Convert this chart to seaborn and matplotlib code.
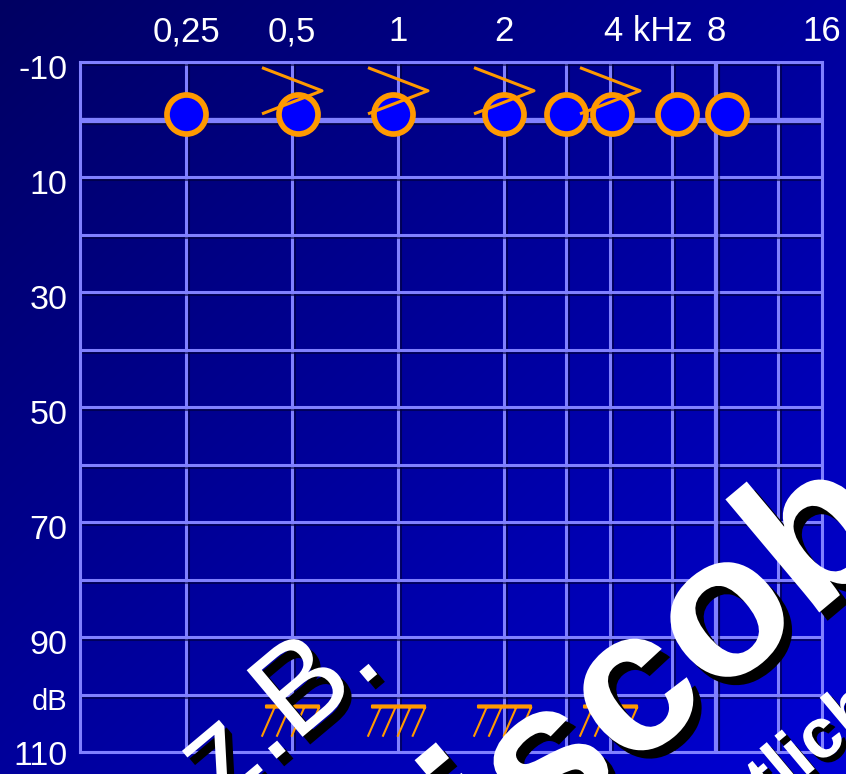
import numpy as np
import pandas as pd
import matplotlib
matplotlib.use("Agg")
import matplotlib.pyplot as plt
import matplotlib.patheffects as pe
from matplotlib.path import Path
from matplotlib.ticker import NullFormatter
from matplotlib.transforms import ScaledTranslation
import seaborn as sns

# ---------------- data ----------------
freq_ticks = [0.25, 0.5, 1, 2, 4, 8, 16]
freq_tick_labels = ["0,25", "0,5", "1", "2", "4 kHz", "8", "16"]
freq_grid_extra = [3, 6, 12]
db_ticks = [-10, 10, 30, 50, 70, 90, 100, 110]
db_tick_labels = ["-10", "10", "30", "50", "70", "90", "dB", "110"]
db_grid_extra = [0, 20, 40, 60, 80]

air_freq = [0.25, 0.52, 0.97, 2.0, 3.0, 4.05, 6.2, 8.6]
air_db = [-1, -1, -1, -1, -1, -1, -1, -1]
bone_freq = [0.5, 1, 2, 4]
bone_db = [-5, -5, -5, -5]
ucl_freq = [0.5, 1, 2, 4]
ucl_db = [102, 102, 102, 102]

caption_1 = "z.B."
caption_2 = "Discobesuch"
caption_3 = "deutlich"

# ---------------- style ----------------
sns.set_theme(style="white")
plt.rcParams['font.family'] = ['Liberation Sans', 'DejaVu Sans']

W, H = 846, 774
fig = plt.figure(figsize=(W / 100, H / 100), dpi=100)
fig.patch.set_facecolor('#000080')

# gradient background
bg = fig.add_axes([0, 0, 1, 1], zorder=-10)
yy, xx = np.mgrid[0:H, 0:W]
t = (xx / W + yy / H) / 2.0
c0 = np.array([0x00, 0x00, 0x62]) / 255.0
c1 = np.array([0x00, 0x00, 0xD6]) / 255.0
img = c0 + (c1 - c0) * t[..., None]
bg.imshow(img, aspect='auto', extent=[0, 1, 0, 1], origin='upper')
bg.axis('off')

ax = fig.add_axes([80 / W, (H - 752) / H, (822 - 80) / W, (752 - 62) / H], zorder=1)
ax.patch.set_alpha(0)

grid_color = '#8080ff'
orange = '#ff9900'
line_shadow = [pe.SimpleLineShadow(offset=(1.5, -1.5), shadow_color='#000033', alpha=0.6), pe.Normal()]

# air conduction circles (seaborn)
air = pd.DataFrame({"freq": air_freq, "db": air_db})
sns.scatterplot(data=air, x="freq", y="db", ax=ax, s=790, color="#0000ff",
                edgecolor=orange, linewidth=4.1, zorder=5, legend=False)

# bone conduction ">" markers
bone_path = Path([(-1, 0.77), (1, 0), (-1, -0.77)], [Path.MOVETO, Path.LINETO, Path.LINETO])
ax.scatter(bone_freq, bone_db, marker=bone_path, s=1866, facecolors='none',
           edgecolors=orange, linewidths=2.2, zorder=6)

# UCL hatched markers
verts = [(-0.5, 0.02), (0.5, 0.02), (0.5, -0.02), (-0.5, -0.02), (-0.5, 0.02)]
codes = [Path.MOVETO, Path.LINETO, Path.LINETO, Path.LINETO, Path.CLOSEPOLY]
for top in [-0.33, -0.05, 0.23, 0.51]:
    verts += [(top, 0.0), (top - 0.25, -0.57)]
    codes += [Path.MOVETO, Path.LINETO]
ucl_path = Path(verts, codes)
ax.scatter(ucl_freq, ucl_db, marker=ucl_path, s=1960, facecolors=orange,
           edgecolors=orange, linewidths=1.5, zorder=6)

# axes / scales
ax.set_xscale('log', base=2)
ax.set_xlim(0.125, 16)
ax.set_ylim(110, -10)
ax.set_xticks(freq_ticks)
ax.set_xticklabels(freq_tick_labels)
ax.set_xticks(freq_grid_extra, minor=True)
ax.xaxis.set_minor_formatter(NullFormatter())
ax.set_yticks(db_ticks)
ax.set_yticklabels(db_tick_labels)
ax.set_yticks(db_grid_extra, minor=True)
ax.yaxis.set_minor_formatter(NullFormatter())
ax.set_xlabel('')
ax.set_ylabel('')

ax.grid(True, which='both', color=grid_color, lw=2.2, path_effects=line_shadow)
ax.axhline(0, color=grid_color, lw=3.8, zorder=2, path_effects=line_shadow)
ax.axvline(8, color=grid_color, lw=3.0, zorder=2, path_effects=line_shadow)

for sp in ax.spines.values():
    sp.set_color(grid_color)
    sp.set_linewidth(2.2)

ax.xaxis.tick_top()
ax.tick_params(axis='x', which='both', length=0, labelsize=25, pad=10,
               labelcolor='white', labeltop=True, labelbottom=False)
ax.tick_params(axis='y', which='both', length=0, labelsize=24.5, pad=9,
               labelcolor='white')

# per-label tweaks (after tick_params)
for lab in ax.get_yticklabels():
    shift = -1 if lab.get_text() == '110' else -5
    lab.set_transform(lab.get_transform() + ScaledTranslation(0, shift / 100, fig.dpi_scale_trans))
    if lab.get_text() == 'dB':
        lab.set_fontsize(21)
for lab in ax.get_xticklabels():
    if lab.get_text() == '4 kHz':
        lab.set_horizontalalignment('left')
        lab.set_transform(lab.get_transform() + ScaledTranslation(-6 / 100, 0, fig.dpi_scale_trans))

# ---------------- big rotated captions ----------------
def fxy(px, py):
    return px / W, 1 - py / H

def txt_shadow(off):
    return [pe.withSimplePatchShadow(offset=(off, -off), shadow_rgbFace='black', alpha=1.0)]

x1, y1 = fxy(219.3, 806.7)
fig.text(x1, y1, caption_1, rotation=40, rotation_mode='anchor', ha='left', va='baseline',
         fontsize=91, fontweight='normal', color='white', path_effects=txt_shadow(5.5), zorder=20)
x2, y2 = fxy(386, 976)
fig.text(x2, y2, caption_2, rotation=40, rotation_mode='anchor', ha='left', va='baseline',
         fontsize=146, fontweight='bold', color='white', path_effects=txt_shadow(6), zorder=20)
x3, y3 = fxy(674, 887)
fig.text(x3, y3, caption_3, rotation=40, rotation_mode='anchor', ha='left', va='baseline',
         fontsize=51, fontweight='bold', color='white', path_effects=txt_shadow(3.5), zorder=20)

fig.savefig('out.png', dpi=100)
